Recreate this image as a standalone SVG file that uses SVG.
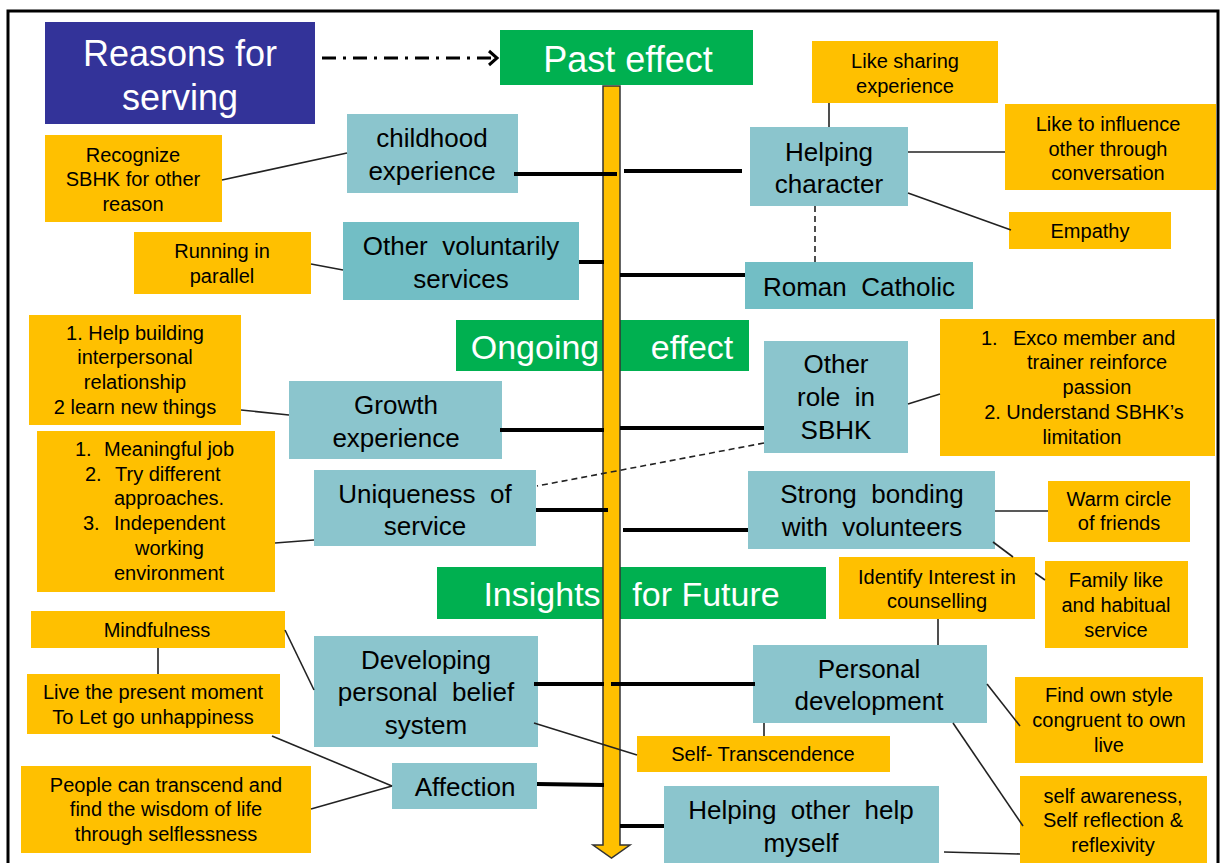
<svg xmlns="http://www.w3.org/2000/svg" width="1224" height="863" viewBox="0 0 1224 863">
  <defs>
    <style>
      text { font-family: "Liberation Sans", Arial, sans-serif; text-anchor: middle; fill: #000; }
      .title { font-size: 36px; fill: #fff; }
      .head { font-size: 34px; fill: #fff; }
      .node { font-size: 26px; }
      .note { font-size: 20px; }
      .left { text-anchor: start; }
      .blue { fill: #333399; }
      .green { fill: #00B050; }
      .teal { fill: #8BC5CD; }
      .teal2 { fill: #72BEC5; }
      .amber { fill: #FFC000; }
      .thin { stroke: #222; stroke-width: 1.6; fill: none; }
      .thick { stroke: #000; stroke-width: 4; fill: none; }
      .dash { stroke: #222; stroke-width: 1.6; fill: none; stroke-dasharray: 6 4; }
    </style>
  </defs>

  <rect width="1224" height="863" fill="#fff"/>
  <!-- frame -->
  <path d="M8,870 V11 H1218 V870" fill="none" stroke="#000" stroke-width="3"/>

  <!-- headings -->
  <g id="reasons">
    <rect class="blue" x="45" y="22" width="270" height="102"/>
    <text class="title" x="180" y="66">Reasons for</text>
    <text class="title" x="180" y="110">serving</text>
  </g>
  <g id="past-effect">
    <rect class="green" x="500" y="30" width="253" height="55"/>
    <text class="head" x="628" y="72" style="font-size:36px">Past effect</text>
  </g>
  <g id="ongoing-effect">
    <rect class="green" x="456" y="320" width="293" height="51"/>
    <text class="head" x="535" y="359">Ongoing</text>
    <text class="head" x="692" y="359">effect</text>
  </g>
  <g id="insights">
    <rect class="green" x="437" y="567" width="389" height="52"/>
    <text class="head" x="542" y="606">Insights</text>
    <text class="head" x="706" y="606">for Future</text>
  </g>

  <!-- past effect nodes -->
  <g id="childhood">
    <rect class="teal" x="347" y="114" width="171" height="79"/>
    <text class="node" x="432" y="147">childhood</text>
    <text class="node" x="432" y="180">experience</text>
  </g>
  <g id="recognize">
    <rect class="amber" x="45" y="135" width="177" height="87"/>
    <text class="note" x="133" y="162">Recognize</text>
    <text class="note" x="133" y="186">SBHK for other</text>
    <text class="note" x="133" y="211">reason</text>
  </g>
  <g id="other-voluntary">
    <rect class="teal2" x="343" y="222" width="236" height="78"/>
    <text class="node" x="461" y="255" xml:space="preserve">Other  voluntarily</text>
    <text class="node" x="461" y="288">services</text>
  </g>
  <g id="parallel">
    <rect class="amber" x="134" y="232" width="177" height="62"/>
    <text class="note" x="222" y="258">Running in</text>
    <text class="note" x="222" y="283">parallel</text>
  </g>
  <g id="helping-character">
    <rect class="teal" x="750" y="127" width="158" height="79"/>
    <text class="node" x="829" y="161">Helping</text>
    <text class="node" x="829" y="193">character</text>
  </g>
  <g id="sharing">
    <rect class="amber" x="812" y="41" width="186" height="62"/>
    <text class="note" x="905" y="68">Like sharing</text>
    <text class="note" x="905" y="93">experience</text>
  </g>
  <g id="influence">
    <rect class="amber" x="1005" y="104" width="211" height="86"/>
    <text class="note" x="1108" y="131">Like to influence</text>
    <text class="note" x="1108" y="156">other through</text>
    <text class="note" x="1108" y="180">conversation</text>
  </g>
  <g id="empathy">
    <rect class="amber" x="1009" y="212" width="162" height="37"/>
    <text class="note" x="1090" y="238">Empathy</text>
  </g>
  <g id="roman-catholic">
    <rect class="teal2" x="745" y="262" width="228" height="47"/>
    <text class="node" x="859" y="296" xml:space="preserve">Roman  Catholic</text>
  </g>

  <!-- ongoing effect nodes -->
  <g id="growth">
    <rect class="teal" x="289" y="381" width="213" height="78"/>
    <text class="node" x="396" y="414">Growth</text>
    <text class="node" x="396" y="447">experience</text>
  </g>
  <g id="growth-notes">
    <rect class="amber" x="29" y="315" width="212" height="110"/>
    <text class="note" x="135" y="340">1. Help building</text>
    <text class="note" x="135" y="364">interpersonal</text>
    <text class="note" x="135" y="389">relationship</text>
    <text class="note" x="135" y="414">2 learn new things</text>
  </g>
  <g id="other-role">
    <rect class="teal" x="764" y="341" width="144" height="112"/>
    <text class="node" x="836" y="373">Other</text>
    <text class="node" x="836" y="406" xml:space="preserve">role  in</text>
    <text class="node" x="836" y="439">SBHK</text>
  </g>
  <g id="role-notes">
    <rect class="amber" x="940" y="319" width="275" height="137"/>
    <text class="note left" x="981" y="345">1.</text>
    <text class="note left" x="1013" y="345">Exco member and</text>
    <text class="note" x="1097" y="369">trainer reinforce</text>
    <text class="note" x="1097" y="394">passion</text>
    <text class="note" x="1084" y="419">2. Understand SBHK’s</text>
    <text class="note" x="1082" y="444">limitation</text>
  </g>
  <g id="uniqueness">
    <rect class="teal" x="314" y="470" width="222" height="76"/>
    <text class="node" x="425" y="503" xml:space="preserve">Uniqueness  of</text>
    <text class="node" x="425" y="535">service</text>
  </g>
  <g id="uniqueness-notes">
    <rect class="amber" x="37" y="431" width="238" height="161"/>
    <text class="note left" x="75" y="456">1.</text>
    <text class="note left" x="104" y="456">Meaningful job</text>
    <text class="note left" x="85" y="481">2.</text>
    <text class="note left" x="115" y="481">Try different</text>
    <text class="note left" x="114" y="505">approaches.</text>
    <text class="note left" x="83" y="530">3.</text>
    <text class="note left" x="114" y="530">Independent</text>
    <text class="note left" x="135" y="555">working</text>
    <text class="note left" x="114" y="580">environment</text>
  </g>
  <g id="bonding">
    <rect class="teal" x="748" y="471" width="247" height="78"/>
    <text class="node" x="872" y="503" xml:space="preserve">Strong  bonding</text>
    <text class="node" x="872" y="536" xml:space="preserve">with  volunteers</text>
  </g>
  <g id="warm-circle">
    <rect class="amber" x="1048" y="481" width="142" height="61"/>
    <text class="note" x="1119" y="506">Warm circle</text>
    <text class="note" x="1119" y="530">of friends</text>
  </g>
  <g id="family-like">
    <rect class="amber" x="1045" y="561" width="143" height="87"/>
    <text class="note" x="1116" y="587">Family like</text>
    <text class="note" x="1116" y="612">and habitual</text>
    <text class="note" x="1116" y="637">service</text>
  </g>

  <!-- insights nodes -->
  <g id="counselling">
    <rect class="amber" x="839" y="557" width="196" height="62"/>
    <text class="note" x="937" y="584">Identify Interest in</text>
    <text class="note" x="937" y="608">counselling</text>
  </g>
  <g id="personal-development">
    <rect class="teal" x="753" y="645" width="234" height="78"/>
    <text class="node" x="869" y="678">Personal</text>
    <text class="node" x="869" y="710">development</text>
  </g>
  <g id="own-style">
    <rect class="amber" x="1015" y="677" width="188" height="86"/>
    <text class="note" x="1109" y="702">Find own style</text>
    <text class="note" x="1109" y="727">congruent to own</text>
    <text class="note" x="1109" y="752">live</text>
  </g>
  <g id="self-awareness">
    <rect class="amber" x="1020" y="776" width="187" height="90"/>
    <text class="note" x="1113" y="803">self awareness,</text>
    <text class="note" x="1113" y="827">Self reflection &amp;</text>
    <text class="note" x="1113" y="852">reflexivity</text>
  </g>
  <g id="self-transcendence">
    <rect class="amber" x="637" y="736" width="253" height="36"/>
    <text class="note" x="763" y="761">Self- Transcendence</text>
  </g>
  <g id="belief-system">
    <rect class="teal" x="314" y="636" width="224" height="111"/>
    <text class="node" x="426" y="669">Developing</text>
    <text class="node" x="426" y="701" xml:space="preserve">personal  belief</text>
    <text class="node" x="426" y="734">system</text>
  </g>
  <g id="mindfulness">
    <rect class="amber" x="31" y="611" width="254" height="37"/>
    <text class="note" x="157" y="637">Mindfulness</text>
  </g>
  <g id="present-moment">
    <rect class="amber" x="27" y="674" width="253" height="60"/>
    <text class="note" x="153" y="699">Live the present moment</text>
    <text class="note" x="153" y="724">To Let go unhappiness</text>
  </g>
  <g id="affection">
    <rect class="teal" x="392" y="763" width="145" height="46"/>
    <text class="node" x="465" y="796">Affection</text>
  </g>
  <g id="selflessness">
    <rect class="amber" x="21" y="766" width="290" height="87"/>
    <text class="note" x="166" y="792">People can transcend and</text>
    <text class="note" x="166" y="816">find the wisdom of life</text>
    <text class="note" x="166" y="841">through selflessness</text>
  </g>
  <g id="helping-other">
    <rect class="teal" x="664" y="786" width="275" height="80"/>
    <text class="node" x="801" y="819" xml:space="preserve">Helping  other  help</text>
    <text class="node" x="801" y="852">myself</text>
  </g>

  <!-- timeline arrow -->
  <g id="timeline">
    <path d="M603,86 H620 V845 H630 L611.5,858 L593,845 H603 Z" fill="#FFC000" stroke="#333" stroke-width="1.5"/>
  </g>

  <g id="connectors">
    <!-- heading link -->
    <line x1="322" y1="58" x2="494" y2="58" stroke="#000" stroke-width="3" stroke-dasharray="14 7 3 7"/>
    <polyline points="489,51 497,58 489,65" fill="none" stroke="#000" stroke-width="3"/>

    <!-- links to the timeline -->
    <line class="thick" x1="514" y1="174" x2="617" y2="174"/>
    <line class="thick" x1="624" y1="171" x2="742" y2="171"/>
    <line class="thick" x1="579" y1="262" x2="604" y2="262"/>
    <line class="thick" x1="620" y1="275" x2="745" y2="275"/>
    <line class="thick" x1="500" y1="430" x2="604" y2="430"/>
    <line class="thick" x1="620" y1="428" x2="764" y2="428"/>
    <line class="thick" x1="536" y1="510" x2="608" y2="510"/>
    <line class="thick" x1="623" y1="530" x2="748" y2="530"/>
    <line class="thick" x1="534" y1="684" x2="604" y2="684"/>
    <line class="thick" x1="611" y1="684" x2="755" y2="684"/>
    <line class="thick" x1="537" y1="784" x2="604" y2="785"/>
    <line class="thick" x1="620" y1="826" x2="664" y2="826"/>

    <!-- links to notes -->
    <line class="thin" x1="222" y1="180" x2="347" y2="153"/>
    <line class="thin" x1="311" y1="264" x2="343" y2="270"/>
    <line class="thin" x1="829" y1="103" x2="829" y2="127"/>
    <line class="thin" x1="908" y1="152" x2="1005" y2="152"/>
    <line class="thin" x1="908" y1="193" x2="1011" y2="230"/>
    <line class="dash" x1="815" y1="206" x2="815" y2="262"/>
    <line class="thin" x1="241" y1="410" x2="289" y2="415"/>
    <line class="thin" x1="908" y1="404" x2="940" y2="394"/>
    <line class="dash" x1="764" y1="443" x2="537" y2="486"/>
    <line class="thin" x1="275" y1="543" x2="314" y2="540"/>
    <line class="thin" x1="995" y1="511" x2="1048" y2="511"/>
    <line class="thin" x1="993" y1="542" x2="1013" y2="557"/>
    <line class="thin" x1="1035" y1="573" x2="1045" y2="580"/>
    <line class="thin" x1="938" y1="619" x2="938" y2="645"/>
    <line class="thin" x1="987" y1="684" x2="1020" y2="726"/>
    <line class="thin" x1="953" y1="723" x2="1023" y2="826"/>
    <line class="thin" x1="944" y1="852" x2="1020" y2="854"/>
    <line class="thin" x1="764" y1="723" x2="764" y2="736"/>
    <line class="thin" x1="534" y1="723" x2="637" y2="755"/>
    <line class="thin" x1="285" y1="630" x2="314" y2="690"/>
    <line class="thin" x1="158" y1="648" x2="158" y2="674"/>
    <line class="thin" x1="272" y1="736" x2="392" y2="786"/>
    <line class="thin" x1="311" y1="809" x2="392" y2="786"/>
  </g>
</svg>
